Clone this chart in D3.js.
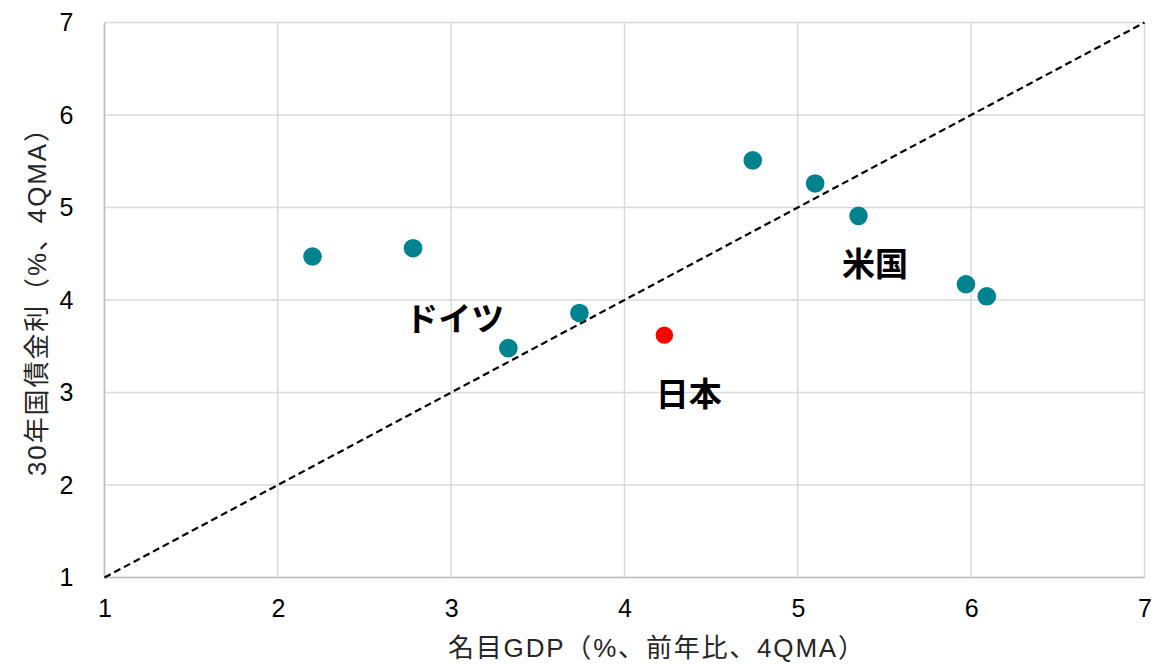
<!DOCTYPE html>
<html><head><meta charset="utf-8">
<script src="https://cdn.jsdelivr.net/npm/d3@7"></script>
<style>body{margin:0;background:#fff;} svg{display:block;}</style>
</head><body>
<svg id="c" width="1153" height="664"></svg>
<script>
const othersX = [2.2, 2.78, 3.33, 3.74, 4.74, 5.10, 5.35, 5.97, 6.09];
const othersY = [4.47, 4.56, 3.48, 3.86, 5.51, 5.26, 4.91, 4.17, 4.04];
const japanX = [4.23];
const japanY = [3.62];
const ticks = [1, 2, 3, 4, 5, 6, 7];
const labels = [
  {text: "ドイツ", x: 3.02, y: 3.67},
  {text: "日本", x: 4.37, y: 2.85},
  {text: "米国", x: 5.445, y: 4.26}
];
const xTitle = "名目GDP（%、前年比、4QMA）";
const yTitle = "30年国債金利（%、4QMA）";

const svg = d3.select("#c");
const L = 104.5, R = 1144.5, T = 22.5, B = 577.5;
const x = d3.scaleLinear().domain([1, 7]).range([L, R]);
const y = d3.scaleLinear().domain([1, 7]).range([B, T]);
const font = "Arial, 'Liberation Sans', 'Noto Sans CJK JP', sans-serif";

// gridlines
svg.append("g").selectAll("line.v").data(ticks).join("line")
  .attr("x1", d => x(d)).attr("x2", d => x(d)).attr("y1", T).attr("y2", B)
  .attr("stroke", "#d9d9d9").attr("stroke-width", 1.5);
svg.append("g").selectAll("line.h").data(ticks).join("line")
  .attr("x1", L).attr("x2", R).attr("y1", d => y(d)).attr("y2", d => y(d))
  .attr("stroke", "#d9d9d9").attr("stroke-width", 1.5);
// axis lines
svg.append("line").attr("x1", L).attr("x2", L).attr("y1", T).attr("y2", B).attr("stroke", "#bfbfbf").attr("stroke-width", 1.5);
svg.append("line").attr("x1", L).attr("x2", R).attr("y1", B).attr("y2", B).attr("stroke", "#bfbfbf").attr("stroke-width", 1.5);

// axes with d3 (labels only)
const xa = svg.append("g").attr("transform", `translate(0,${B})`)
  .call(d3.axisBottom(x).tickValues(ticks).tickSize(0).tickPadding(22).tickFormat(d3.format("d")));
const ya = svg.append("g").attr("transform", `translate(${L},0)`)
  .call(d3.axisLeft(y).tickValues(ticks).tickSize(0).tickPadding(31).tickFormat(d3.format("d")));
[xa, ya].forEach(a => {
  a.select(".domain").remove();
  a.selectAll("text").attr("font-family", font).attr("font-size", 25).attr("fill", "#000");
});
xa.selectAll("text").attr("dy", "0.71em");

// 45 degree line
svg.append("line").attr("x1", x(1)).attr("y1", y(1)).attr("x2", x(7)).attr("y2", y(7))
  .attr("stroke", "#000").attr("stroke-width", 2.2).attr("stroke-dasharray", "7,4");

// points
svg.append("g").selectAll("circle").data(othersX.map((v, i) => [v, othersY[i]])).join("circle")
  .attr("cx", d => x(d[0])).attr("cy", d => y(d[1])).attr("r", 9.3).attr("fill", "#00838f");
svg.append("g").selectAll("circle").data(japanX.map((v, i) => [v, japanY[i]])).join("circle")
  .attr("cx", d => x(d[0])).attr("cy", d => y(d[1])).attr("r", 8.7).attr("fill", "#ff0000");

// labels
svg.append("g").selectAll("text").data(labels).join("text")
  .attr("x", d => x(d.x)).attr("y", d => y(d.y)).attr("text-anchor", "middle")
  .attr("font-family", "'Noto Sans CJK JP', sans-serif").attr("font-weight", "bold")
  .attr("font-size", 33).attr("fill", "#000").text(d => d.text);

// titles
svg.append("text").attr("x", 656).attr("y", 657).attr("text-anchor", "middle")
  .attr("font-family", font).attr("font-size", 26).attr("fill", "#262626")
  .attr("textLength", 416).attr("lengthAdjust", "spacing").text(xTitle);
svg.append("text").attr("transform", `translate(46,296) rotate(-90)`).attr("text-anchor", "middle")
  .attr("font-family", font).attr("font-size", 26).attr("fill", "#262626")
  .attr("textLength", 360).attr("lengthAdjust", "spacing").text(yTitle);
</script>
</body></html>
